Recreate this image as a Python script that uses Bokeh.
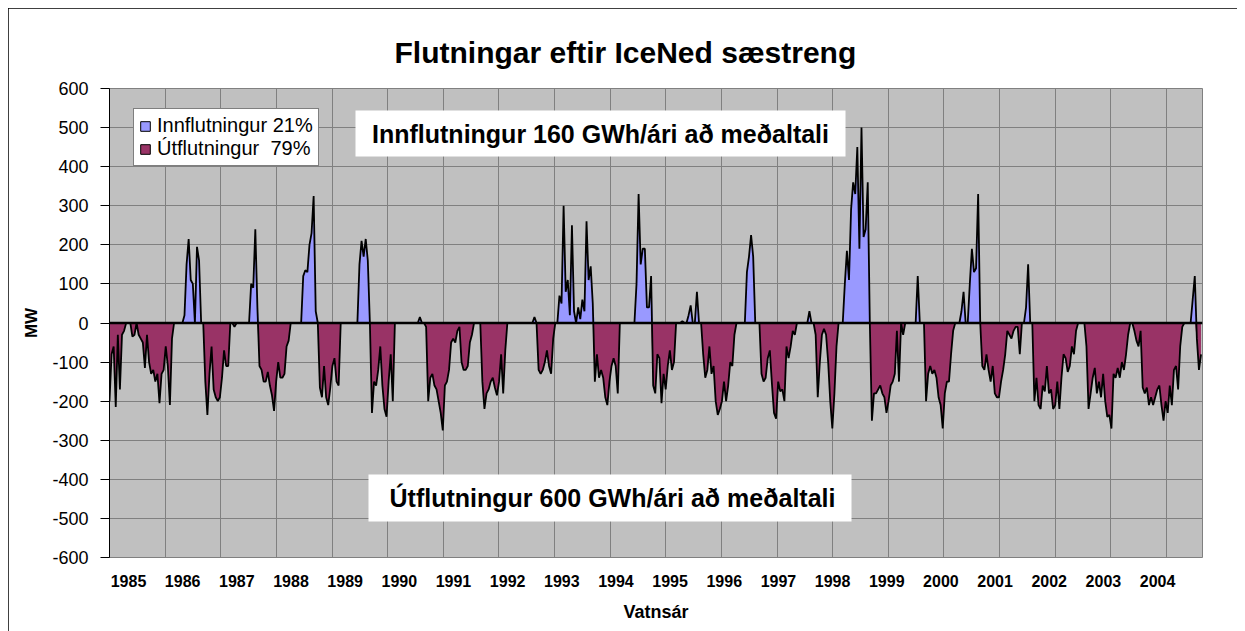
import numpy as np
from bokeh.plotting import figure
from bokeh.models import (FixedTicker, Span, Label, BoxAnnotation, Legend,
                          LegendItem, ColumnDataSource, Range1d, Title)
from bokeh.embed import file_html
from bokeh.resources import INLINE

# ---------------- data (MW, net flow; + = import, - = export), ~2-week steps ----
YEARS = list(range(1985, 2005))
Y_TICKS = list(range(-600, 601, 100))

w1985 = [-200, -80, -60, -215, -30, -170, -30, -20, 0, 0, 0, -35, -30, 0, -30, -40,
         -50, -115, -30, -100, -130, -120, -150, -130, -205, -130]
w1986 = [-120, -60, -110, -210, -40, 0, 0, 0, 0, 0, 20, 150, 215, 110, 100, 0,
         195, 160, 0, 0, -150, -235, -130, -60, -170, -190]
w1987 = [-200, -190, -140, -70, -110, -110, 0, 0, -10, 0, 0, 0, 0, 0, 0, 0,
         100, 90, 240, 40, -110, -120, -150, -150, -125, -160]
w1988 = [-185, -225, -150, -100, -140, -140, -130, -60, -45, 0, 0, 0, 0, 0, 0, 120,
         135, 130, 200, 230, 325, 30, 0, -165, -190, -110]
w1989 = [-190, -210, -165, -110, -90, -150, -160, 0, 0, 0, 0, 0, 0, 0, 0, 0,
         150, 210, 170, 215, 160, 0, -230, -150, -160, -120]
w1990 = [-60, -160, -220, -240, -150, -80, -200, 0, 0, 0, 0, 0, 0, 0, 0, 0,
         0, 0, 0, 15, 0, 0, -10, -200, -140, -130]
w1991 = [-160, -170, -200, -230, -275, -160, -150, -120, -50, -40, -50, -20, -10, -100, -120, -120,
         -110, -50, -30, 0, 0, 0, 0, -150, -220, -180]
w1992 = [-170, -150, -140, -165, -185, -150, -80, -180, -70, 0, 0, 0, 0, 0, 0, 0,
         0, 0, 0, 0, 0, 0, 15, 0, -120, -130]
w1993 = [-120, -100, -70, -110, -130, -40, 0, 0, 70, 50, 300, 80, 110, 20, 250, 30,
         0, 40, 10, 60, 30, 260, 110, 145, 50, -150]
w1994 = [-80, -140, -120, -140, -190, -210, -150, -110, -90, -110, -180, 0, 0, 0, 0, 0,
         0, 0, 0, 100, 330, 150, 190, 190, 40, 40]
w1995 = [120, -160, -180, -80, -90, -205, -130, -170, -110, -70, -120, -100, 0, 0, 0, 5,
         0, 0, 20, 45, 0, 0, 80, 0, 0, -80]
w1996 = [-140, -120, -60, -130, -110, -200, -235, -220, -200, -150, -200, -160, -100, -110, -30, 0,
         0, 0, 0, 0, 130, 170, 225, 170, 0, 0]
w1997 = [0, -130, -150, -140, -90, -70, -155, -230, -245, -150, -175, -170, -200, -60, -90, -60,
         -20, -30, 0, 0, 0, 0, 0, 0, 30, 0]
w1998 = [0, -30, -190, -100, -30, -15, -30, -100, -200, -270, -180, -60, 0, 0, 0, 100,
         185, 110, 290, 360, 330, 450, 190, 500, 220, 240]
w1999 = [360, 0, -250, -180, -180, -170, -160, -180, -190, -230, -200, -160, -150, -130, -20, -150,
         0, -30, 0, 0, 0, 0, 0, 0, 120, 0]
w2000 = [0, 0, -200, -130, -110, -130, -120, -140, -190, -210, -270, -180, -150, -150, -80, -20,
         0, 0, 0, 30, 80, 0, 0, 100, 190, 130]
w2001 = [140, 330, 0, -110, -120, -80, -120, -150, -110, -180, -190, -190, -150, -120, -80, -20,
         -30, -40, -20, -10, -10, -80, 0, 0, 40, 150]
w2002 = [0, 0, -200, -140, -210, -220, -160, -175, -110, -180, -170, -220, -210, -150, -220, -140,
         -80, -90, -125, -110, -60, -80, -20, 0, 0, 0]
w2003 = [0, -60, -220, -180, -140, -115, -180, -150, -190, -130, -200, -240, -235, -270, -130, -140,
         -115, -140, -100, -120, -80, -30, 0, 0, -20, -45]
w2004 = [-60, -20, -165, -180, -165, -210, -190, -210, -190, -170, -160, -210, -250, -200, -230, -160,
         -210, -120, -110, -170, -60, -10, 0, 0, 0, 0, 60, 120, -40, -120, -80]

SERIES = [w1985, w1986, w1987, w1988, w1989, w1990, w1991, w1992, w1993, w1994,
          w1995, w1996, w1997, w1998, w1999, w2000, w2001, w2002, w2003, w2004]

LEGEND_LABELS = ["Innflutningur 21%", "Útflutningur  79%"]
TITLE = "Flutningar eftir IceNed sæstreng"
NOTE_IN = "Innflutningur 160 GWh/ári að meðaltali"
NOTE_OUT = "Útflutningur 600 GWh/ári að meðaltali"

# ---------------- geometry / style ---------------------------------------------
FONT = "Liberation Sans"
C_IN = "#9999FF"
C_OUT = "#993366"
X0 = 1984.649            # left edge of the plot area in "year" units
STEP = 1.0 / 26.0        # sample step (about two weeks)
OFF = 8                  # figure offset on the page
FRAME_L, FRAME_T, FRAME_W, FRAME_H = 109, 88, 1093, 469
PX_PER_YEAR = 54.16

values = np.array([v for s in SERIES for v in s], dtype=float)
t = X0 + np.arange(len(values)) * STEP
x_end = X0 + FRAME_W / PX_PER_YEAR

src = ColumnDataSource(dict(
    t=t, v=values,
    pos=np.maximum(values, 0.0),
    neg=np.minimum(values, 0.0),
    zero=np.zeros_like(values),
))


def xd(px):
    return X0 + (px - FRAME_L) / PX_PER_YEAR


def yd(py):
    return (FRAME_T + FRAME_H / 2.0 - py) * 1200.0 / FRAME_H


W, H = 1229, 623
p = figure(width=W, height=H, toolbar_location=None,
           output_backend="svg",
           x_range=Range1d(X0, x_end), y_range=Range1d(-600, 600),
           min_border_left=FRAME_L - OFF, min_border_top=FRAME_T - OFF,
           min_border_right=W - (FRAME_L - OFF) - FRAME_W,
           min_border_bottom=H - (FRAME_T - OFF) - FRAME_H)
p.margin = (OFF, 0, 0, OFF)
p.styles = {"outline": "1px solid black", "outline-offset": "-1px"}
p.background_fill_color = "#C0C0C0"
p.border_fill_color = "white"
p.outline_line_color = "#808080"
p.outline_line_width = 1

# title (left aligned with an offset so that it is centred near page x 625)
p.title = Title(text=TITLE, align="left", offset=394 - FRAME_L,
                text_font=FONT, text_font_style="bold", text_font_size="30px",
                text_color="black", standoff=39)

# grid
p.xgrid.ticker = FixedTicker(ticks=[X0 + k * 1.0272 for k in range(20)])
p.ygrid.ticker = FixedTicker(ticks=Y_TICKS)
p.xgrid.grid_line_color = "#808080"
p.ygrid.grid_line_color = "#808080"
p.xgrid.grid_line_width = 1
p.ygrid.grid_line_width = 1

# areas + line
r_pos = p.varea(x="t", y1="zero", y2="pos", source=src, fill_color=C_IN)
r_neg = p.varea(x="t", y1="neg", y2="zero", source=src, fill_color=C_OUT)
p.line(x="t", y="v", source=src, line_color="black", line_width=1.8)
p.add_layout(Span(location=0, dimension="width", line_color="black", line_width=2.5))

# axes
ya = p.yaxis[0]
ya.ticker = FixedTicker(ticks=Y_TICKS)
ya.major_label_overrides = {v: str(v) for v in Y_TICKS}
ya.major_label_text_font = FONT
ya.major_label_text_font_size = "18px"
ya.major_label_text_color = "black"
ya.axis_line_color = "black"
ya.major_tick_line_color = "black"
ya.major_tick_out = 9
ya.major_tick_in = 0
ya.minor_tick_line_color = None
ya.major_label_standoff = 12
ya.axis_label = "MW"
ya.axis_label_text_font = FONT
ya.axis_label_text_font_style = "bold"
ya.axis_label_text_font_size = "17px"
ya.axis_label_text_color = "black"
ya.axis_label_standoff = 8

xa = p.xaxis[0]
xa.ticker = FixedTicker(ticks=YEARS)
xa.major_label_text_font = FONT
xa.major_label_text_font_style = "bold"
xa.major_label_text_font_size = "16px"
xa.major_label_text_color = "black"
xa.axis_line_color = None
xa.major_tick_line_color = None
xa.minor_tick_line_color = None
xa.major_tick_out = 0
xa.major_tick_in = 0
xa.major_label_standoff = 17
xa.axis_label = "Vatnsár"
xa.axis_label_text_font = FONT
xa.axis_label_text_font_style = "bold"
xa.axis_label_text_font_size = "18px"
xa.axis_label_text_color = "black"
xa.axis_label_standoff = 12

# legend swatches: quads whose only row is NaN (nothing drawn in the plot)
nan_src = ColumnDataSource(dict(l=[np.nan], r=[np.nan], tp=[np.nan], b=[np.nan]))
q_in = p.quad(left="l", right="r", top="tp", bottom="b", source=nan_src,
              fill_color=C_IN, line_color="black", line_width=1)
q_out = p.quad(left="l", right="r", top="tp", bottom="b", source=nan_src,
               fill_color=C_OUT, line_color="black", line_width=1)
legend = Legend(items=[LegendItem(label=LEGEND_LABELS[0], renderers=[q_in]),
                       LegendItem(label=LEGEND_LABELS[1], renderers=[q_out])],
                location=(133 - FRAME_L, FRAME_T + FRAME_H - 166))
legend.label_text_font = FONT
legend.label_text_font_size = "20px"
legend.label_text_color = "black"
legend.glyph_width = 12
legend.glyph_height = 12
legend.label_standoff = 6
legend.padding = 5
legend.spacing = 0
legend.margin = 0
legend.border_line_color = "black"
legend.border_line_width = 1
legend.background_fill_color = "white"
legend.background_fill_alpha = 1.0
p.add_layout(legend)

# white note boxes and texts
p.add_layout(BoxAnnotation(left=xd(355), right=xd(845), top=yd(110), bottom=yd(156),
                           fill_color="white", fill_alpha=1.0, line_color=None))
p.add_layout(BoxAnnotation(left=xd(368), right=xd(851), top=yd(474), bottom=yd(521),
                           fill_color="white", fill_alpha=1.0, line_color=None))
for txt, cx, cy in [(NOTE_IN, 600, 133), (NOTE_OUT, 612, 497)]:
    p.add_layout(Label(x=xd(cx), y=yd(cy), text=txt, text_align="center",
                       text_baseline="middle", text_font=FONT, text_font_style="bold",
                       text_font_size="25px", text_color="black"))

open("out.html", "w").write(file_html(p, INLINE))
